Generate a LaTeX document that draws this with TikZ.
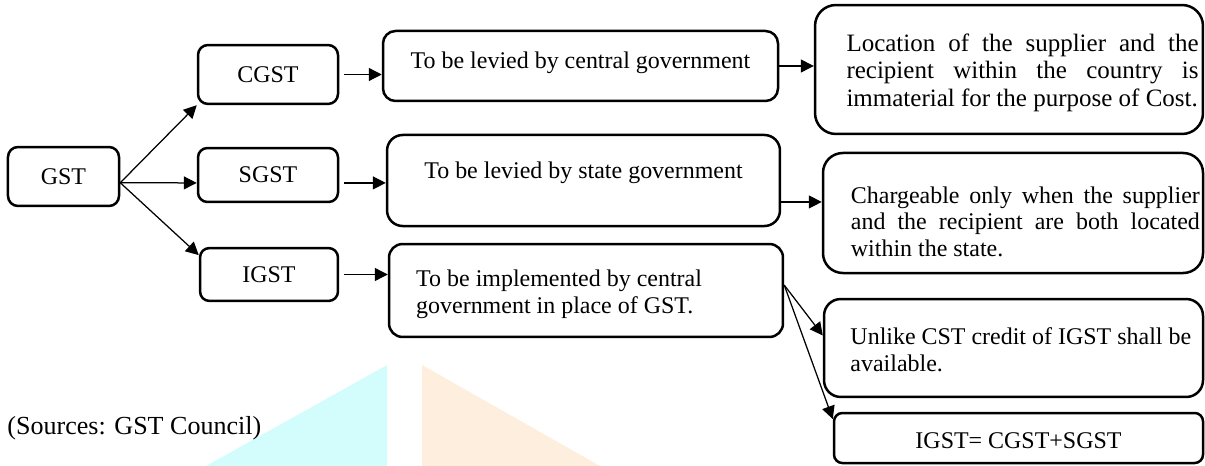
\documentclass[tikz,border=0pt]{standalone}
\usepackage{fontspec}
\setmainfont{Liberation Serif}
\usetikzlibrary{arrows.meta}

\definecolor{markcyan}{RGB}{211,253,253}
\definecolor{markorange}{RGB}{254,238,221}

% one justified line and one plain line of given width
\newcommand{\jline}[2]{\makebox[#1][s]{\spaceskip=.25em plus 1fil\relax#2}}
\newcommand{\pline}[2]{\makebox[#1][l]{\spaceskip=.25em\relax#2}}

\begin{document}
\begin{tikzpicture}[x=0.48pt,y=-0.48pt,
  >={Triangle[length=6.2pt,width=6.2pt]},
  every node/.style={font=\fontsize{11.5}{12.7}\selectfont},
  box/.style={draw,line width=1.2pt,inner sep=0pt},
  link/.style={->,line width=0.6pt}]
  \useasboundingbox (0,0) rectangle (1205,466);

  % watermark
  \fill[markcyan] (387,365) -- (387,466) -- (206,466) -- cycle;
  \fill[markorange] (422,365) -- (422,466) -- (600,466) -- cycle;

  \node[box,rounded corners=4.8pt,minimum width=53.3pt,minimum height=28.3pt]
    (gst) at (63.5,176.5) {GST};
  \node[box,rounded corners=4.8pt,minimum width=67.2pt,minimum height=28.3pt]
    (cgst) at (268,74.5) {CGST};
  \node[box,rounded corners=4.5pt,minimum width=67.2pt,minimum height=25.9pt]
    (sgst) at (268,175) {SGST};
  \node[box,rounded corners=4.5pt,minimum width=66.2pt,minimum height=25.4pt]
    (igst) at (269,274.5) {IGST};

  \node[box,rounded corners=6pt,minimum width=189.6pt,minimum height=33.6pt,
    text depth=6pt] (central) at (580.5,66) {To be levied by central government};
  \node[box,rounded corners=7.5pt,minimum width=188.6pt,minimum height=43.7pt,
    text depth=10.3pt] (state) at (583.5,180.5) {To be levied by state government};
  \node[box,rounded corners=6.5pt,minimum width=189.1pt,minimum height=44.6pt,
    inner xsep=13pt,text width=163pt,align=flush left,text depth=11.4pt]
    (impl) at (586,290.5)
    {\pline{163pt}{To be implemented by central}\\
     \pline{163pt}{government in place of GST.}};

  \node[box,rounded corners=10pt,minimum width=186.2pt,minimum height=61.9pt,
    inner xsep=2pt,text width=182pt,align=flush right,text depth=25.9pt,
    font=\fontsize{12}{13.2}\selectfont]
    (loc) at (1009,69.5)
    {\jline{169pt}{Location of the supplier and the}\\
     \jline{169pt}{recipient within the country is}\\
     \pline{169pt}{immaterial for the purpose of Cost.}};
  \node[box,rounded corners=9.5pt,minimum width=182.4pt,minimum height=57.6pt,
    inner xsep=1.5pt,text width=179.4pt,align=flush right,text depth=17.4pt]
    (charge) at (1013,213)
    {\jline{167.5pt}{Chargeable only when the supplier}\\
     \jline{167.5pt}{and the recipient are both located}\\
     \pline{167.5pt}{within the state.}};
  \node[box,rounded corners=8pt,minimum width=181.9pt,minimum height=47pt,
    inner xsep=6.2pt,text width=169.5pt,align=flush right,text depth=11pt]
    (unlike) at (1013.5,348)
    {\pline{163pt}{Unlike CST credit of IGST shall be}\\
     \pline{163pt}{available.}};
  \node[box,rounded corners=4pt,minimum width=177.1pt,minimum height=24pt,
    text height=10.5pt] (eq) at (1018.5,438) {IGST= CGST+SGST};

  \node[anchor=west,inner sep=0pt,font=\fontsize{12.5}{13}\selectfont]
    (src) at (7,428) {(Sources: GST Council)};

  \draw[link] ([yshift=-3pt]gst.east) -- (cgst.south west);
  \draw[link] ([yshift=-3pt]gst.east) -- ([yshift=-3.8pt]sgst.west);
  \draw[link] ([yshift=-3pt]gst.east) -- ([yshift=-4pt]igst.north west);

  \draw[link] ([xshift=2.5pt]cgst.east) -- (cgst.east -| central.west);
  \draw[link] ([xshift=2.5pt,yshift=-3.8pt]sgst.east)
    -- ([yshift=-3.8pt]sgst.east -| state.west);
  \draw[link] ([xshift=2.5pt]igst.east) -- (igst.east -| impl.west);

  \draw[link] (central.east) -- (central.east -| loc.west);
  \draw[link] ([yshift=-10.3pt]state.east) -- ([yshift=-10.3pt]state.east -| charge.west);
  \draw[link] ([yshift=2.6pt]impl.east) -- ([yshift=6pt]unlike.west);
  \draw[link] ([yshift=2.6pt]impl.east) -- ([yshift=-3.5pt]eq.north west);
\end{tikzpicture}
\end{document}
